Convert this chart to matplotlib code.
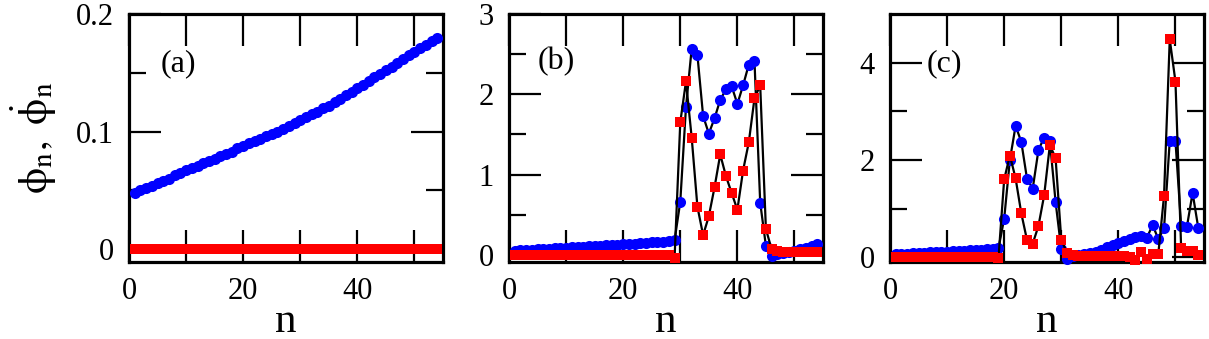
import matplotlib
matplotlib.use("Agg")
import matplotlib.pyplot as plt
import numpy as np
from matplotlib.ticker import FixedLocator

plt.rcParams['font.family'] = ['Liberation Serif', 'DejaVu Serif']
plt.rcParams['mathtext.fontset'] = 'stix'

n = np.arange(1, 55)

# panel (a)
phi_a = [0.048, 0.050, 0.052, 0.054, 0.056, 0.058, 0.060, 0.063, 0.065, 0.067,
         0.069, 0.071, 0.073, 0.075, 0.077, 0.079, 0.081, 0.083, 0.086, 0.088,
         0.090, 0.092, 0.094, 0.096, 0.098, 0.100, 0.102, 0.105, 0.107, 0.110,
         0.112, 0.115, 0.117, 0.120, 0.122, 0.125, 0.128, 0.131, 0.134, 0.137,
         0.140, 0.143, 0.146, 0.149, 0.152, 0.155, 0.158, 0.162, 0.165, 0.168,
         0.171, 0.174, 0.177, 0.180]
dphi_a = [0.0] * 54

# panel (b)
phi_b = [0.053, 0.057, 0.061, 0.065, 0.069, 0.073, 0.077, 0.081, 0.085, 0.089,
         0.093, 0.097, 0.101, 0.105, 0.109, 0.113, 0.117, 0.121, 0.125, 0.130,
         0.135, 0.140, 0.145, 0.150, 0.155, 0.160, 0.165, 0.170, 0.180,
         0.66, 1.84, 2.57, 2.49, 1.73, 1.51, 1.70, 1.93, 2.06, 2.10, 1.88,
         2.11, 2.37, 2.41, 0.65, 0.11, -0.01, 0.01, 0.02, 0.04, 0.05,
         0.07, 0.09, 0.11, 0.13]
dphi_b = [0.0, 0.0, 0.0, 0.0, 0.0, 0.0, 0.0, 0.0, 0.0, 0.0,
          0.0, 0.0, 0.0, 0.0, 0.0, 0.0, 0.0, 0.0, 0.0, 0.0,
          0.0, 0.0, 0.0, 0.0, 0.0, 0.0, 0.0, 0.0, -0.04,
          1.65, 2.16, 1.46, 0.60, 0.245, 0.48, 0.84, 1.25, 0.98, 0.77, 0.56,
          1.05, 1.40, 1.95, 2.11, 0.32, 0.07, 0.05, 0.04, 0.04, 0.03,
          0.03, 0.03, 0.03, 0.03]

# panel (c)
phi_c = [0.055, 0.062, 0.069, 0.076, 0.083, 0.090, 0.096, 0.102, 0.108, 0.114,
         0.120, 0.126, 0.132, 0.138, 0.144, 0.150, 0.158, 0.166, 0.180,
         0.79, 2.00, 2.70, 2.37, 1.61, 1.41, 2.20, 2.46, 2.39, 1.14, 0.16,
         -0.04, 0.02, 0.04, 0.06, 0.08, 0.11, 0.15, 0.20, 0.24, 0.29,
         0.33, 0.37, 0.41, 0.43, 0.40, 0.66, 0.37, 0.59, 2.39, 2.39,
         0.64, 0.62, 1.32, 0.60]
dphi_c = [0.0, 0.0, 0.0, 0.0, 0.0, 0.0, 0.0, 0.0, 0.0, 0.0,
          0.0, 0.0, 0.0, 0.0, 0.0, 0.0, 0.0, 0.0, -0.02,
          1.60, 2.09, 1.62, 0.90, 0.35, 0.28, 0.64, 1.27, 2.30, 2.04, 0.36,
          0.09, 0.04, 0.03, 0.02, 0.02, 0.02, 0.02, 0.02, 0.02, 0.02,
          0.02, 0.0, -0.06, 0.11, -0.03, 0.06, 0.07, 1.26, 4.48, 3.61,
          0.18, 0.13, 0.13, 0.04]

panels = [
    ('(a)', phi_a, dphi_a, (-0.011, 0.2), [0, 0.1, 0.2], ['0', '0.1', '0.2'], [0.05, 0.15], (0.10, 0.80)),
    ('(b)', phi_b, dphi_b, (-0.09, 3.0), [0, 1, 2, 3], ['0', '1', '2', '3'], [0.5, 1.5, 2.5], (0.09, 0.81)),
    ('(c)', phi_c, dphi_c, (-0.1, 5.0), [0, 2, 4], ['0', '2', '4'], [1, 3], (0.118, 0.80)),
]

fig = plt.figure(figsize=(12.09, 3.39), dpi=100)
lefts = [129, 509, 890]
for (lab, phi, dphi, ylim, yt, ytl, ymin, lpos), l in zip(panels, lefts):
    ax = fig.add_axes([l / 1209, 77 / 339, 314 / 1209, 248 / 339])
    ax.plot(n, phi, '-', color='k', lw=1.6, marker='o', ms=8,
            mfc='#0000ff', mec='#0000ff', mew=0, clip_on=False, zorder=3)
    ax.plot(n, dphi, '-', color='k', lw=1.6, marker='s', ms=7.3,
            mfc='#ff0000', mec='#ff0000', mew=0, clip_on=False, zorder=4)
    ax.set_xlim(0, 55)
    ax.set_ylim(*ylim)
    ax.xaxis.set_major_locator(FixedLocator([0, 20, 40]))
    ax.xaxis.set_minor_locator(FixedLocator([10, 30, 50]))
    ax.set_xticklabels(['0', '20', '40'])
    ax.yaxis.set_major_locator(FixedLocator(yt))
    ax.yaxis.set_minor_locator(FixedLocator(ymin))
    ax.set_yticklabels(ytl)
    ax.tick_params(which='both', direction='in', top=True, right=True,
                   width=1.6, labelsize=22)
    ax.tick_params(axis='x', which='both', length=23, pad=11)
    ax.tick_params(axis='y', which='major', length=23, pad=11)
    ax.tick_params(axis='y', which='minor', length=12)
    for s in ax.spines.values():
        s.set_linewidth(2.3)
    ax.set_xlabel('n', fontsize=31, labelpad=-3)
    ax.text(lpos[0], lpos[1], lab, transform=ax.transAxes, fontsize=23,
            va='center', ha='left', zorder=5,
            bbox=dict(facecolor='white', edgecolor='none', pad=0.5) if lab == '(c)' else None)
    if lab == '(a)':
        ax.set_ylabel(r'$\mathrm{\phi_n,\ \dot{\phi}_n}$', fontsize=30, labelpad=12)

fig.savefig('out.png', dpi=100)
